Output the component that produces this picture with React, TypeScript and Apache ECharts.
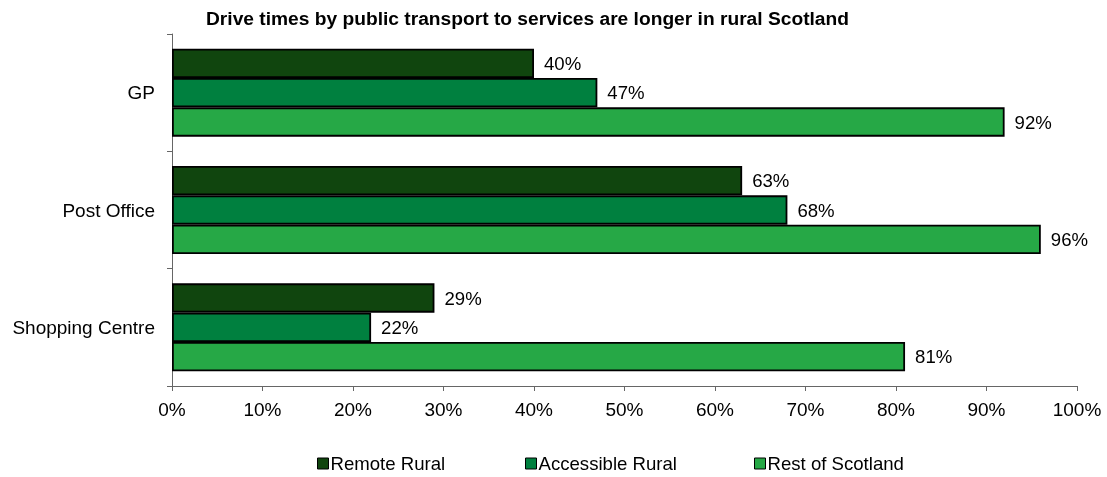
import React, { useEffect, useRef } from "react";
import * as echarts from "echarts";

const categories = ["GP", "Post Office", "Shopping Centre"];
const seriesNames = ["Remote Rural", "Accessible Rural", "Rest of Scotland"];
const remoteRural = [40, 63, 29];
const accessibleRural = [47, 68, 22];
const restOfScotland = [92, 96, 81];
const colors = ["#10450E", "#00803F", "#26A846"];
const title = "Drive times by public transport to services are longer in rural Scotland";
const legendLefts = [312, 520, 749];

export default function App() {
  const ref = useRef<HTMLDivElement>(null);
  useEffect(() => {
    const chart = echarts.init(ref.current!, null, { renderer: "svg" });
    const values = [remoteRural, accessibleRural, restOfScotland];
    const font = "Liberation Sans, Arial, sans-serif";
    chart.setOption({
      animation: false,
      textStyle: { fontFamily: font },
      title: {
        text: title,
        left: 201,
        top: 4,
        textStyle: { fontSize: 19.2, fontWeight: "bold", color: "#000", fontFamily: font },
      },
      legend: seriesNames.map((name, i) => ({
        top: 449,
        left: legendLefts[i],
        itemWidth: 11,
        itemHeight: 11,
        icon: "rect",
        itemStyle: { borderColor: "#000", borderWidth: 1 },
        textStyle: { fontSize: 18.6, color: "#000", padding: [0, 0, 0, -3] },
        data: [name],
      })),
      grid: { left: 172, right: 30, top: 34, bottom: 91 },
      xAxis: {
        type: "value",
        min: 0,
        max: 100,
        interval: 10,
        axisLine: { show: true, lineStyle: { color: "#666", width: 1 } },
        axisTick: { show: true, length: 5, lineStyle: { color: "#666" } },
        splitLine: { show: false },
        axisLabel: { formatter: "{value}%", fontSize: 19, color: "#000", margin: 14 },
      },
      yAxis: {
        type: "category",
        inverse: true,
        data: categories,
        axisLine: { show: true, lineStyle: { color: "#666", width: 1 } },
        axisTick: { show: true, length: 5, lineStyle: { color: "#666" } },
        axisLabel: { fontSize: 19, color: "#000", margin: 17 },
      },
      series: seriesNames.map((name, i) => ({
        name,
        type: "bar",
        data: values[i],
        barGap: "0%",
        barCategoryGap: "25%",
        itemStyle: { color: colors[i], borderColor: "#000", borderWidth: 1.8 },
        label: {
          show: true,
          position: "right",
          distance: 10,
          formatter: "{c}%",
          fontSize: 18.6,
          color: "#000",
        },
      })),
    });
    return () => chart.dispose();
  }, []);
  return (
    <div
      ref={ref}
      style={{ position: "fixed", left: 0, top: 0, width: 1107, height: 477 }}
    />
  );
}
